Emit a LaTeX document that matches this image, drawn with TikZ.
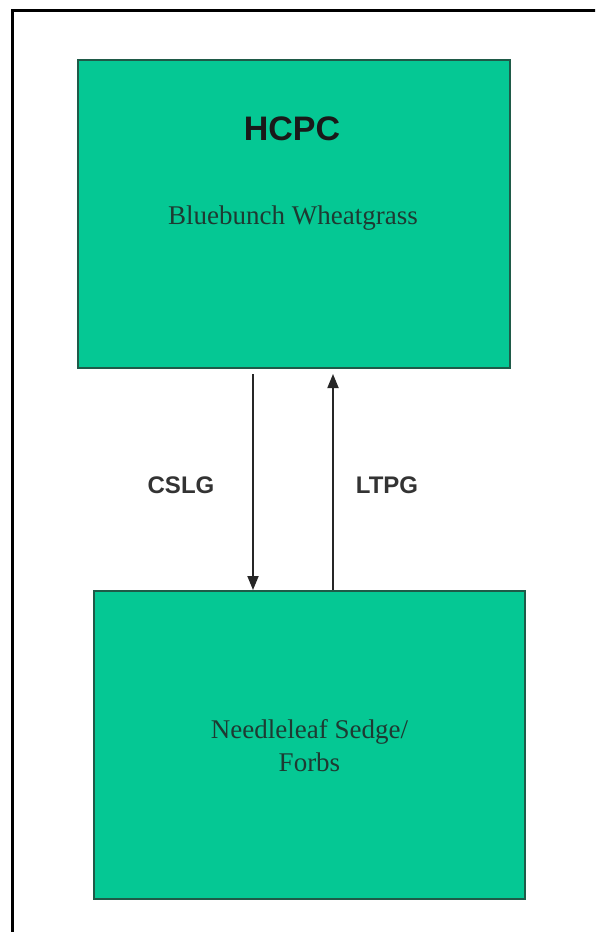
\documentclass[tikz,border=0pt]{standalone}
\usepackage{fontspec}
\setmainfont{Liberation Serif}
\newfontfamily\labelfont{Liberation Sans}
\usetikzlibrary{positioning,arrows.meta}
\definecolor{grass}{HTML}{05C894}
\definecolor{grassline}{HTML}{1F5A48}
\definecolor{inktext}{HTML}{1E3A32}

\begin{document}
\begin{tikzpicture}[x=1pt,y=-1pt,
    every node/.style={inner sep=0pt},
    statebox/.style={draw=grassline,line width=2pt,fill=grass,minimum width=432pt,minimum height=308pt},
    flow/.style={draw=black!85,line width=1.8pt,-{Triangle[length=14pt,width=11pt]}},
    pathway/.style={font=\labelfont\bfseries\fontsize{24}{28}\selectfont,text=black!80}]
    \useasboundingbox (0,0) rectangle (595,932);
    \clip (0,0) rectangle (595,932);
    \fill[white] (0,0) rectangle (595,932);
    % frame, cut off at right and bottom
    \draw[line width=3pt] (12,10) rectangle (620,960);
    \node[statebox] (hcpc) at (294,214) {};
    \node[font=\labelfont\bfseries\fontsize{34}{38}\selectfont,text=black!90] (title) at (292,129) {HCPC};
    \node[font=\fontsize{27}{31}\selectfont,text=inktext] (hcpcname) at (293,218) {Bluebunch Wheatgrass};
    \node[statebox,minimum width=431pt] (sedge) at (309.5,745) {};
    \node[font=\fontsize{27}{33}\selectfont,text=inktext,align=center] (sedgename) at (309.5,746) {Needleleaf Sedge/\\Forbs};
    \draw[flow] ([xshift=-41pt,yshift=-5pt]hcpc.south) -- ([xshift=-56.5pt]sedge.north);
    \draw[flow] ([xshift=23.5pt]sedge.north) -- ([xshift=39pt,yshift=-5pt]hcpc.south);
    \node[pathway] (cslg) at (181,485) {CSLG};
    \node[pathway] (ltpg) at (387,485) {LTPG};
\end{tikzpicture}
\end{document}
